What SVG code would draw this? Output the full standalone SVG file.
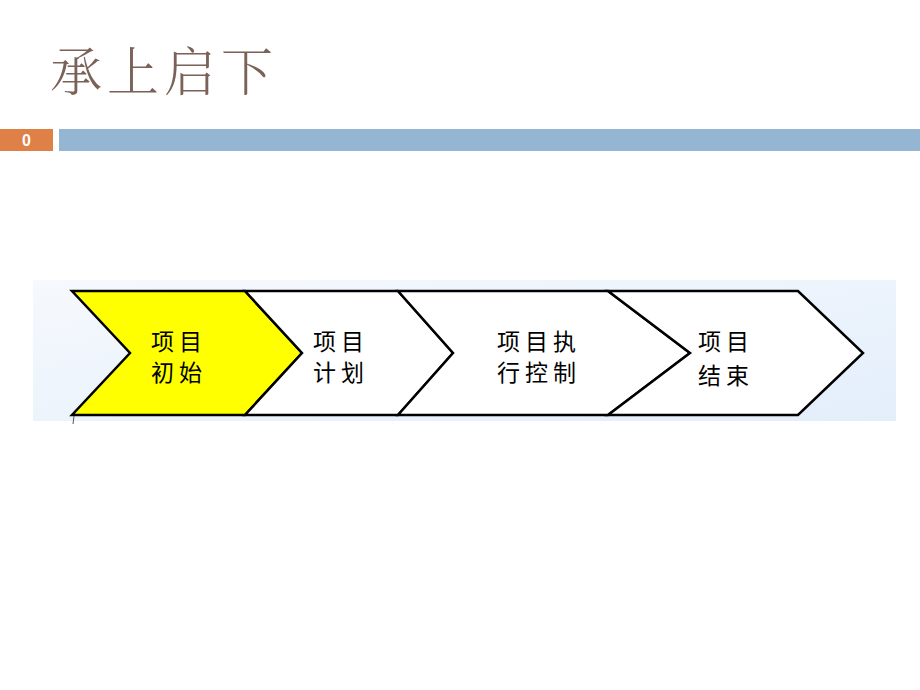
<svg xmlns="http://www.w3.org/2000/svg" width="920" height="690" viewBox="0 0 920 690">
<defs>
<linearGradient id="bg" x1="0" y1="0" x2="1" y2="1">
<stop offset="0" stop-color="#f6f9fd"/>
<stop offset="1" stop-color="#e3eefb"/>
</linearGradient>
<style>
.chev{stroke:#000;stroke-width:2.5;stroke-linejoin:miter}
.lbl{font-family:"Noto Sans CJK SC","Noto Sans",sans-serif;font-size:23px;fill:#000;letter-spacing:5px}
</style>
</defs>
<rect width="920" height="690" fill="#fff"/>
<text x="50" y="91" font-family="'Noto Serif CJK SC','Noto Sans CJK SC',serif" font-size="52" font-weight="300" fill="#7b6259" letter-spacing="5">承上启下</text>
<rect x="0" y="129" width="53" height="22" fill="#df8047"/>
<text x="26.5" y="146" text-anchor="middle" font-family="'Liberation Sans',Arial,sans-serif" font-size="16" font-weight="bold" fill="#fff">0</text>
<rect x="59" y="129" width="861" height="22" fill="#95b6d3"/>
<rect x="33" y="280" width="863" height="141" fill="url(#bg)"/>
<g id="node1">
<polygon class="chev" points="72,291 245,291 302,353 245,415 72,415 130,353" fill="#ffff00"/>
<text class="lbl" x="151" y="350">项目</text>
<text class="lbl" x="151" y="381">初始</text>
</g>
<g id="node2">
<polygon class="chev" points="245,291 398,291 453,353 398,415 245,415 302,353" fill="#fff"/>
<text class="lbl" x="313" y="350">项目</text>
<text class="lbl" x="313" y="381">计划</text>
</g>
<g id="node3">
<polygon class="chev" points="398,291 608,291 690,353 608,415 398,415 453,353" fill="#fff"/>
<text class="lbl" x="497" y="350">项目执</text>
<text class="lbl" x="497" y="381">行控制</text>
</g>
<g id="node4">
<polygon class="chev" points="608,291 798,291 863,353 798,415 608,415 690,353" fill="#fff"/>
<text class="lbl" x="698" y="350">项目</text>
<text class="lbl" x="698" y="384">结束</text>
</g>
<g id="connectors"></g>
<line x1="74" y1="416" x2="73" y2="424" stroke="#555" stroke-width="1"/>
</svg>
